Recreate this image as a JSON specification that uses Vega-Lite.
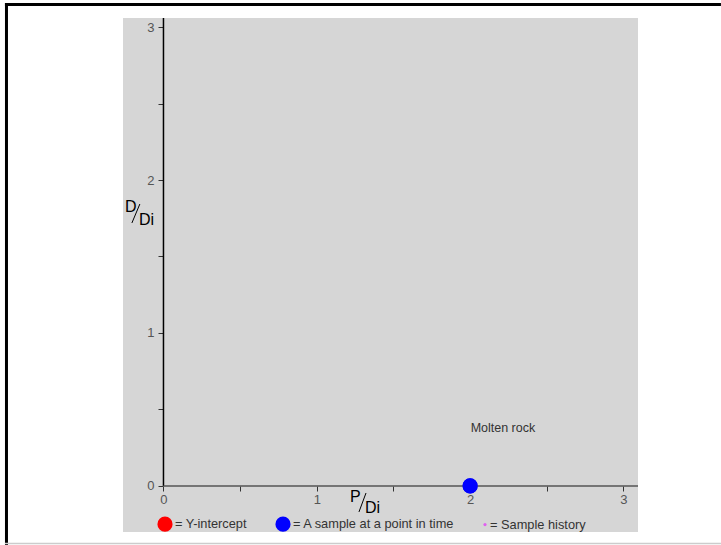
{
  "$schema": "https://vega.github.io/schema/vega-lite/v6.json",
  "width": 515,
  "height": 514,
  "autosize": {"type": "none"},
  "padding": {"left": 123, "top": 18, "right": 83, "bottom": 13},
  "background": "white",
  "config": {"view": {"fill": "#d6d6d6", "stroke": null}, "font": "Liberation Sans"},
  "data": {"values": [{"one": 1}]},
  "datasets": {
    "samples": [{"kind": "= A sample at a point in time", "p": 2, "d": 0}],
    "notes": [{"label": "Molten rock", "p": 2.214, "d": 0.353}]
  },
  "layer": [
    {
      "data": {"name": "samples"},
      "mark": {"type": "point", "filled": true, "shape": "circle", "opacity": 1, "size": 230},
      "encoding": {
        "x": {"field": "p", "type": "quantitative",
          "scale": {"domain": [-0.264, 3.095], "nice": false, "zero": false},
          "axis": {"orient": "bottom", "offset": -46, "domain": false, "grid": false, "title": null,
            "values": [0, 0.5, 1, 1.5, 2, 2.5, 3],
            "labelExpr": "datum.value % 1 === 0 ? format(datum.value, 'd') : ''",
            "tickSize": 5, "tickColor": "#333", "tickWidth": 1,
            "labelColor": "#555", "labelFontSize": 13, "labelPadding": 2,
            "labelFlush": false, "labelOverlap": false}},
        "y": {"field": "d", "type": "quantitative",
          "scale": {"domain": [-0.301, 3.059], "nice": false, "zero": false},
          "axis": {"orient": "left", "offset": -40, "domain": false, "grid": false, "title": null,
            "values": [0, 0.5, 1, 1.5, 2, 2.5, 3],
            "labelExpr": "datum.value % 1 === 0 ? format(datum.value, 'd') : ''",
            "tickSize": 5, "tickColor": "#333", "tickWidth": 1,
            "labelColor": "#555", "labelFontSize": 13, "labelPadding": 4,
            "labelFlush": false, "labelOverlap": false}},
        "color": {"field": "kind", "type": "nominal",
          "scale": {"domain": ["= Y-intercept", "= A sample at a point in time", "= Sample history"],
            "range": ["#ff0000", "#0000ff", "#e060f0"]},
          "legend": {"orient": "none", "legendX": 34, "legendY": 498, "direction": "horizontal",
            "title": null, "symbolType": "circle", "symbolSize": 230, "symbolOpacity": 1,
            "symbolStrokeWidth": 0, "labelLimit": 300,
            "labelFontSize": 12.8, "labelColor": "#333", "labelOffset": 2, "columnPadding": 28,
            "padding": 0,
            "encode": {
              "symbols": {"update": {
                "size": {"signal": "datum.label === '= Sample history' ? 10 : 230"},
                "x": {"signal": "datum.label === '= Sample history' ? -6 : 8"}}},
              "labels": {"update": {
                "dx": {"signal": "datum.label === '= Sample history' ? -19 : 0"}}}}}}
      }
    },
    {
      "mark": {"type": "rule", "color": "black", "strokeWidth": 1.5},
      "encoding": {
        "x": {"datum": 0, "type": "quantitative", "scale": {"domain": [-0.264, 3.095], "nice": false, "zero": false}},
        "y": {"datum": 0, "type": "quantitative", "scale": {"domain": [-0.301, 3.059], "nice": false, "zero": false}},
        "y2": {"datum": 3.059}
      }
    },
    {
      "mark": {"type": "rule", "color": "#555", "strokeWidth": 1.5},
      "encoding": {
        "x": {"datum": 0, "type": "quantitative", "scale": {"domain": [-0.264, 3.095], "nice": false, "zero": false}},
        "x2": {"datum": 3.095},
        "y": {"datum": 0, "type": "quantitative", "scale": {"domain": [-0.301, 3.059], "nice": false, "zero": false}}
      }
    },
    {
      "data": {"name": "samples"},
      "mark": {"type": "point", "filled": true, "shape": "circle", "opacity": 1, "size": 230, "color": "#0000ff"},
      "encoding": {
        "x": {"field": "p", "type": "quantitative", "scale": {"domain": [-0.264, 3.095], "nice": false, "zero": false}},
        "y": {"field": "d", "type": "quantitative", "scale": {"domain": [-0.301, 3.059], "nice": false, "zero": false}}
      }
    },
    {
      "data": {"name": "notes"},
      "mark": {"type": "text", "align": "center", "baseline": "alphabetic", "fontSize": 12.5, "color": "#333"},
      "encoding": {
        "x": {"field": "p", "type": "quantitative", "scale": {"domain": [-0.264, 3.095], "nice": false, "zero": false}},
        "y": {"field": "d", "type": "quantitative", "scale": {"domain": [-0.301, 3.059], "nice": false, "zero": false}},
        "text": {"field": "label"}
      }
    },
    {
      "mark": {"type": "text", "align": "left", "baseline": "alphabetic", "fontSize": 16, "color": "black", "text": "P"},
      "encoding": {
        "x": {"datum": 1.216, "type": "quantitative", "scale": {"domain": [-0.264, 3.095], "nice": false, "zero": false}},
        "y": {"datum": -0.105, "type": "quantitative", "scale": {"domain": [-0.301, 3.059], "nice": false, "zero": false}}
      }
    },
    {
      "mark": {"type": "text", "align": "left", "baseline": "alphabetic", "fontSize": 16, "color": "black", "text": "Di"},
      "encoding": {
        "x": {"datum": 1.314, "type": "quantitative", "scale": {"domain": [-0.264, 3.095], "nice": false, "zero": false}},
        "y": {"datum": -0.176, "type": "quantitative", "scale": {"domain": [-0.301, 3.059], "nice": false, "zero": false}}
      }
    },
    {
      "mark": {"type": "rule", "color": "black", "strokeWidth": 1},
      "encoding": {
        "x": {"datum": 1.275, "type": "quantitative", "scale": {"domain": [-0.264, 3.095], "nice": false, "zero": false}},
        "x2": {"datum": 1.321},
        "y": {"datum": -0.170, "type": "quantitative", "scale": {"domain": [-0.301, 3.059], "nice": false, "zero": false}},
        "y2": {"datum": -0.046}
      }
    },
    {
      "mark": {"type": "text", "align": "left", "baseline": "alphabetic", "fontSize": 16, "color": "black", "text": "D"},
      "encoding": {
        "x": {"datum": -0.251, "type": "quantitative", "scale": {"domain": [-0.264, 3.095], "nice": false, "zero": false}},
        "y": {"datum": 1.791, "type": "quantitative", "scale": {"domain": [-0.301, 3.059], "nice": false, "zero": false}}
      }
    },
    {
      "mark": {"type": "text", "align": "left", "baseline": "alphabetic", "fontSize": 16, "color": "black", "text": "Di"},
      "encoding": {
        "x": {"datum": -0.160, "type": "quantitative", "scale": {"domain": [-0.264, 3.095], "nice": false, "zero": false}},
        "y": {"datum": 1.706, "type": "quantitative", "scale": {"domain": [-0.301, 3.059], "nice": false, "zero": false}}
      }
    },
    {
      "mark": {"type": "rule", "color": "black", "strokeWidth": 1},
      "encoding": {
        "x": {"datum": -0.206, "type": "quantitative", "scale": {"domain": [-0.264, 3.095], "nice": false, "zero": false}},
        "x2": {"datum": -0.154},
        "y": {"datum": 1.719, "type": "quantitative", "scale": {"domain": [-0.301, 3.059], "nice": false, "zero": false}},
        "y2": {"datum": 1.843}
      }
    },
    {
      "mark": {"type": "rule", "color": "black", "strokeWidth": 3},
      "encoding": {
        "x": {"datum": -1.034, "type": "quantitative", "scale": {"domain": [-0.264, 3.095], "nice": false, "zero": false}},
        "x2": {"datum": 3.636},
        "y": {"datum": 3.147, "type": "quantitative", "scale": {"domain": [-0.301, 3.059], "nice": false, "zero": false}}
      }
    },
    {
      "mark": {"type": "rule", "color": "black", "strokeWidth": 3},
      "encoding": {
        "x": {"datum": -1.024, "type": "quantitative", "scale": {"domain": [-0.264, 3.095], "nice": false, "zero": false}},
        "y": {"datum": 3.157, "type": "quantitative", "scale": {"domain": [-0.301, 3.059], "nice": false, "zero": false}},
        "y2": {"datum": -0.386}
      }
    },
    {
      "mark": {"type": "rule", "color": "#cccccc", "strokeWidth": 1.5},
      "encoding": {
        "x": {"datum": -1.034, "type": "quantitative", "scale": {"domain": [-0.264, 3.095], "nice": false, "zero": false}},
        "x2": {"datum": 3.636},
        "y": {"datum": -0.376, "type": "quantitative", "scale": {"domain": [-0.301, 3.059], "nice": false, "zero": false}}
      }
    }
  ]
}
